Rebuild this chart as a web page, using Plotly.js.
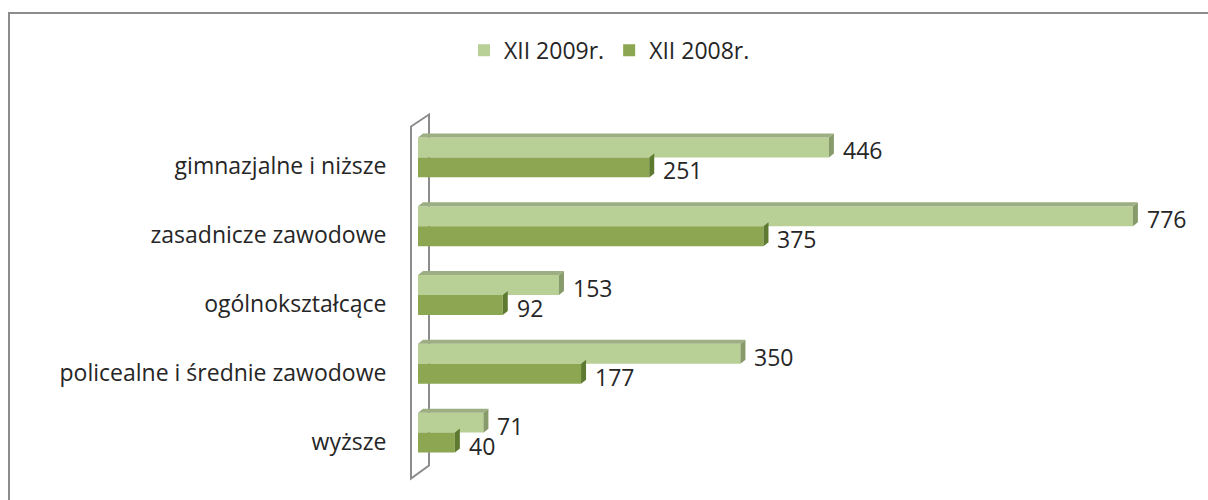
<!DOCTYPE html>
<html>
<head>
<meta charset="utf-8">
<script src="https://cdn.plot.ly/plotly-3.0.1.min.js"></script>
<style>
  html, body { margin: 0; padding: 0; background: #fff; }
  #frame { position: absolute; left: 8px; top: 12px; width: 1215px; height: 500px; border: 2px solid #8c8c8c; box-sizing: border-box; }
  #chart { position: absolute; left: 0; top: 0; width: 1208px; height: 500px; }
</style>
</head>
<body>
<div id="frame"></div>
<div id="chart"></div>
<script>
const categories = ["gimnazjalne i niższe", "zasadnicze zawodowe", "ogólnokształcące", "policealne i średnie zawodowe", "wyższe"];
const seriesNames = ["XII 2009r.", "XII 2008r."];
const values2009 = [446, 776, 153, 350, 71];
const values2008 = [251, 375, 92, 177, 40];

const positions = categories.map((c, i) => i);
const labelPositions = positions.map(p => p + 0.13);

const lightColor = "#B8CF96";
const darkColor = "#8CA651";
const lightSide = "#879A6A";
const darkSide = "#5E7A31";
const lightTop = "#9DAE82";

const font = "'Open Sans', 'Noto Sans', sans-serif";
const txt = { family: font, size: 23, color: "#262626" };

const traces = [
  {
    type: "bar", orientation: "h", name: seriesNames[0],
    y: positions, x: values2009,
    marker: { color: lightColor },
    hoverinfo: "x"
  },
  {
    type: "bar", orientation: "h", name: seriesNames[1],
    y: positions, x: values2008,
    marker: { color: darkColor },
    hoverinfo: "x"
  }
];

const barHalf = 0.29;
const dx = 5, dy = 4, barPx = 20;
const shapes = [];
const annotations = [];
positions.forEach((p, i) => {
  shapes.push({
    type: "path", xref: "x", yref: "y", xsizemode: "pixel", ysizemode: "pixel",
    xanchor: values2009[i], yanchor: p - barHalf,
    path: `M0,0 L${dx},${dy} L${dx},${dy - barPx} L0,${-barPx} Z`,
    fillcolor: lightSide, line: { width: 0 }, layer: "above"
  });
  shapes.push({
    type: "path", xref: "x", yref: "y", ysizemode: "pixel",
    yanchor: p - barHalf,
    path: `M0,0 L${values2009[i]},0 L${values2009[i] + dx / 0.921},${dy} L${dx / 0.921},${dy} Z`,
    fillcolor: lightTop, line: { width: 0 }, layer: "above"
  });
  shapes.push({
    type: "path", xref: "x", yref: "y", xsizemode: "pixel", ysizemode: "pixel",
    xanchor: values2008[i], yanchor: p,
    path: `M0,0 L${dx},${dy} L${dx},${dy - barPx} L0,${-barPx} Z`,
    fillcolor: darkSide, line: { width: 0 }, layer: "above"
  });
  annotations.push({
    x: values2009[i], y: p - barHalf / 2, xref: "x", yref: "y",
    text: String(values2009[i]), showarrow: false, xanchor: "left", yanchor: "middle",
    xshift: 12, yshift: -3, font: txt
  });
  annotations.push({
    x: values2008[i], y: p + barHalf / 2, xref: "x", yref: "y",
    text: String(values2008[i]), showarrow: false, xanchor: "left", yanchor: "middle",
    xshift: 12, yshift: -3, font: txt
  });
});

const L = 418, W = 737, T = 122.5, H = 345;
const px = x => (x - L) / W;
const py = y => (T + H - y) / H;
shapes.push({
  type: "path", xref: "paper", yref: "paper", layer: "below",
  path: `M${px(411)},${py(126)} L${px(429)},${py(114)} L${px(429)},${py(466)} L${px(411)},${py(479)} Z`,
  line: { color: "#8c8c8c", width: 2 }, fillcolor: "rgba(0,0,0,0)"
});

const layout = {
  width: 1208, height: 500,
  margin: { l: 418, r: 53, t: 122.5, b: 32.5 },
  paper_bgcolor: "rgba(0,0,0,0)", plot_bgcolor: "rgba(0,0,0,0)",
  barmode: "group", bargap: 0.42, bargroupgap: 0,
  showlegend: true,
  legend: {
    orientation: "h", x: px(464), xanchor: "left", y: py(28), yanchor: "top",
    font: txt, traceorder: "normal", itemwidth: 30
  },
  xaxis: { range: [0, 800], visible: false, fixedrange: true },
  yaxis: {
    range: [4.5, -0.5], tickmode: "array", tickvals: labelPositions, ticktext: categories,
    ticks: "outside", ticklen: 26, tickcolor: "rgba(0,0,0,0)",
    showgrid: false, zeroline: false, showline: false,
    tickfont: txt, fixedrange: true
  },
  shapes: shapes,
  annotations: annotations
};

Plotly.newPlot("chart", traces, layout, { displayModeBar: false, staticPlot: true });
</script>
</body>
</html>
